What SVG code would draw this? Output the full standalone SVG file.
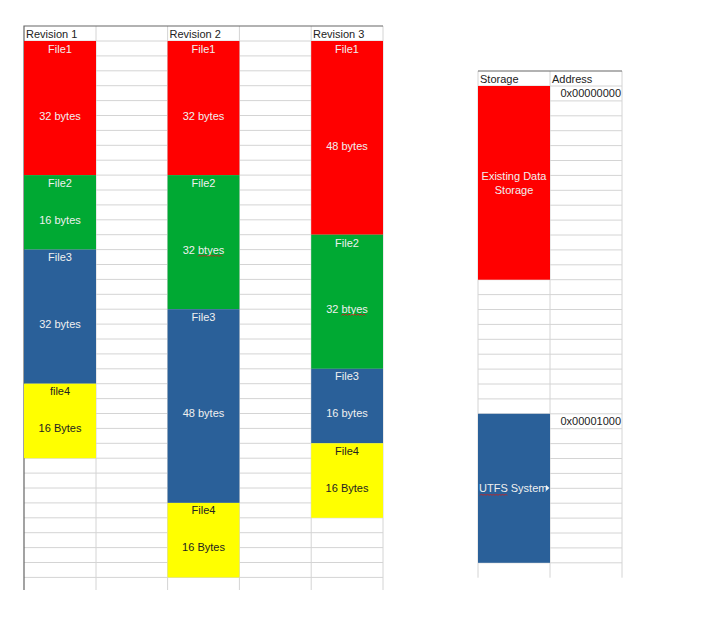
<svg xmlns="http://www.w3.org/2000/svg" width="720" height="620" viewBox="0 0 720 620">
<defs>
<style>
.grid{stroke:#d4d4d4;stroke-width:1;fill:none}
.border{stroke:#666;stroke-width:1.2;fill:none}
.hdr{font-family:"Liberation Sans",Arial,sans-serif;font-size:11px;fill:#222}
.wt{font-family:"Liberation Sans",Arial,sans-serif;font-size:11px;fill:#f0f0f0;text-anchor:middle}
.dk{font-family:"Liberation Sans",Arial,sans-serif;font-size:11px;fill:#222;text-anchor:middle}
.addr{font-family:"Liberation Sans",Arial,sans-serif;font-size:11px;fill:#222;text-anchor:end}
.red{fill:#ff0000}.green{fill:#00a933}.blue{fill:#2a6099}.yellow{fill:#ffff00}
.squig{stroke:#c9211e;stroke-width:0.9;fill:none}
</style>
<clipPath id="utfsClip"><rect x="478" y="470" width="68" height="30"/></clipPath>
</defs>
<rect width="720" height="620" fill="#ffffff"/>

<g id="grid-left">
<path class="grid" d="M24 41H383 M24 55.9H383 M24 70.8H383 M24 85.7H383 M24 100.6H383 M24 115.5H383 M24 130.4H383 M24 145.3H383 M24 160.2H383 M24 175.1H383 M24 190H383 M24 204.9H383 M24 219.8H383 M24 234.7H383 M24 249.6H383 M24 264.5H383 M24 279.4H383 M24 294.3H383 M24 309.2H383 M24 324.1H383 M24 339H383 M24 353.9H383 M24 368.8H383 M24 383.7H383 M24 398.6H383 M24 413.5H383 M24 428.4H383 M24 443.3H383 M24 458.2H383 M24 473.1H383 M24 488H383 M24 502.9H383 M24 517.8H383 M24 532.7H383 M24 547.6H383 M24 562.5H383 M24 577.4H383"/>
<path class="grid" d="M96 26V590 M167.6 26V590 M239.4 26V590 M311.2 26V590 M383 26V590"/>
<path class="border" d="M24 590V26H383"/>
</g>

<g id="grid-right">
<path class="grid" d="M478 86H622 M478 100.9H622 M478 115.8H622 M478 130.7H622 M478 145.6H622 M478 160.5H622 M478 175.4H622 M478 190.3H622 M478 205.2H622 M478 220.1H622 M478 235H622 M478 249.9H622 M478 264.8H622 M478 279.7H622 M478 294.6H622 M478 309.5H622 M478 324.4H622 M478 339.3H622 M478 354.2H622 M478 369.1H622 M478 384H622 M478 398.9H622 M478 413.8H622 M478 428.7H622 M478 443.6H622 M478 458.5H622 M478 473.4H622 M478 488.3H622 M478 503.2H622 M478 518.1H622 M478 533H622 M478 547.9H622 M478 562.8H622"/>
<path class="grid" d="M478 71V577.7 M550 71V577.7 M622 71V577.7"/>
<path class="border" d="M478 71H622"/>
</g>

<g id="headers">
<text class="hdr" x="26" y="38">Revision 1</text>
<text class="hdr" x="169.5" y="38">Revision 2</text>
<text class="hdr" x="313" y="38">Revision 3</text>
<text class="hdr" x="480" y="83">Storage</text>
<text class="hdr" x="552" y="83">Address</text>
</g>

<g id="rev1-file1"><rect class="red" x="24" y="41" width="72" height="134.1"/><text class="wt" x="60" y="53">File1</text><text class="wt" x="60" y="120">32 bytes</text></g>
<g id="rev1-file2"><rect class="green" x="24" y="175.1" width="72" height="74.5"/><text class="wt" x="60" y="187">File2</text><text class="wt" x="60" y="224">16 bytes</text></g>
<g id="rev1-file3"><rect class="blue" x="24" y="249.6" width="72" height="134.1"/><text class="wt" x="60" y="261">File3</text><text class="wt" x="60" y="328">32 bytes</text></g>
<g id="rev1-file4"><rect class="yellow" x="24" y="383.7" width="72" height="74.5"/><text class="dk" x="60" y="395">file4</text><text class="dk" x="60" y="432">16 Bytes</text></g>

<g id="rev2-file1"><rect class="red" x="167.6" y="41" width="71.8" height="134.1"/><text class="wt" x="203.5" y="53">File1</text><text class="wt" x="203.5" y="120">32 bytes</text></g>
<g id="rev2-file2"><rect class="green" x="167.6" y="175.1" width="71.8" height="134.1"/><text class="wt" x="203.5" y="187">File2</text><text class="wt" x="203.5" y="254">32 btyes</text><path class="squig" d="M198 256.5l1.5-1.5 1.5 1.5 1.5-1.5 1.5 1.5 1.5-1.5 1.5 1.5 1.5-1.5 1.5 1.5 1.5-1.5 1.5 1.5 1.5-1.5 1.5 1.5 1.5-1.5 1.5 1.5 1.5-1.5 1.5 1.5"/></g>
<g id="rev2-file3"><rect class="blue" x="167.6" y="309.2" width="71.8" height="193.7"/><text class="wt" x="203.5" y="321">File3</text><text class="wt" x="203.5" y="417">48 bytes</text></g>
<g id="rev2-file4"><rect class="yellow" x="167.6" y="502.9" width="71.8" height="74.5"/><text class="dk" x="203.5" y="514">File4</text><text class="dk" x="203.5" y="551">16 Bytes</text></g>

<g id="rev3-file1"><rect class="red" x="311.2" y="41" width="71.8" height="193.7"/><text class="wt" x="347" y="53">File1</text><text class="wt" x="347" y="150">48 bytes</text></g>
<g id="rev3-file2"><rect class="green" x="311.2" y="234.7" width="71.8" height="134.1"/><text class="wt" x="347" y="247">File2</text><text class="wt" x="347" y="313">32 btyes</text><path class="squig" d="M341.5 315.5l1.5-1.5 1.5 1.5 1.5-1.5 1.5 1.5 1.5-1.5 1.5 1.5 1.5-1.5 1.5 1.5 1.5-1.5 1.5 1.5 1.5-1.5 1.5 1.5 1.5-1.5 1.5 1.5 1.5-1.5 1.5 1.5"/></g>
<g id="rev3-file3"><rect class="blue" x="311.2" y="368.8" width="71.8" height="74.5"/><text class="wt" x="347" y="380">File3</text><text class="wt" x="347" y="417">16 bytes</text></g>
<g id="rev3-file4"><rect class="yellow" x="311.2" y="443.3" width="71.8" height="74.5"/><text class="dk" x="347" y="455">File4</text><text class="dk" x="347" y="492">16 Bytes</text></g>

<g id="existing-data-storage"><rect class="red" x="478" y="86" width="72" height="193.7"/><text class="wt" x="514" y="180">Existing Data</text><text class="wt" x="514" y="194">Storage</text></g>
<g id="utfs-system"><rect class="blue" x="478" y="413.8" width="72" height="149"/><text class="hdr" x="479" y="492" fill="#f0f0f0" style="fill:#f0f0f0" clip-path="url(#utfsClip)">UTFS System</text><path class="squig" d="M480 495.5l1.5-1.5 1.5 1.5 1.5-1.5 1.5 1.5 1.5-1.5 1.5 1.5 1.5-1.5 1.5 1.5 1.5-1.5 1.5 1.5 1.5-1.5 1.5 1.5 1.5-1.5 1.5 1.5 1.5-1.5 1.5 1.5 1.5-1.5 1.5 1.5"/><polygon points="546,485 549.5,488 546,491" fill="#f0f0f0"/></g>

<g id="addresses">
<text class="addr" x="621" y="97">0x00000000</text>
<text class="addr" x="621" y="425">0x00001000</text>
</g>
<g id="connectors"/>
</svg>
